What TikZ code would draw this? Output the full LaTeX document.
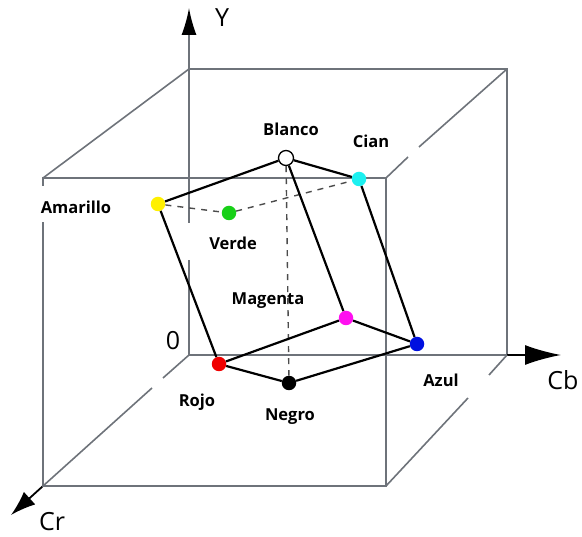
\documentclass[tikz,border=0pt]{standalone}
\usepackage{fontspec}
\setmainfont{Open Sans}
\usetikzlibrary{positioning, arrows.meta}

\definecolor{cubegray}{HTML}{6E737A}
\definecolor{ccian}{HTML}{1CF0F0}
\definecolor{camarillo}{HTML}{FFF000}
\definecolor{cverde}{HTML}{18D018}
\definecolor{cmagenta}{HTML}{FF10F0}
\definecolor{cazul}{HTML}{0010E0}
\definecolor{crojo}{HTML}{F00000}

\begin{document}
\begin{tikzpicture}[
        x=1pt, y=-1pt,
        cube/.style={draw=cubegray, line width=1.6pt},
        edge/.style={black, line width=2.2pt},
        hidden/.style={black!70, line width=1.4pt, dash pattern=on 6pt off 6pt},
        dot/.style={circle, draw=none, minimum size=14.5pt, inner sep=0pt},
        lbl/.style={font=\fontsize{16.5}{18}\selectfont\bfseries, inner sep=0pt},
        axlbl/.style={font=\fontsize{25}{28}\selectfont, inner sep=0pt}
    ]
    \useasboundingbox (0,0) rectangle (582,537);

    % Cube corners
    \coordinate (O)  at (189,355);
    \coordinate (B1) at (189,69);
    \coordinate (B2) at (507,69);
    \coordinate (B3) at (507,355);
    \coordinate (F1) at (43,178);
    \coordinate (F2) at (386,178);
    \coordinate (F3) at (386,486);
    \coordinate (F4) at (43,486);

    % Back face and axes
    \draw[cube] (B1) -- (B2) -- (B3) -- (O);
    \draw[cube] (O) -- (189,260);
    \draw[cube, -{Latex[length=27pt, width=15pt, color=black]}] (189,223) -- (189,8);
    \draw[black, line width=1.8pt, -{Latex[length=36pt, width=20pt]}] (B3) -- (561,355);
    \draw[black, line width=1.8pt, -{Latex[length=25pt, width=17pt]}] (F4) -- (11,515);

    % Front face
    \draw[cube] (43,186) -- (F1) -- (F2) -- (F3) -- (F4) -- (43,222);

    % Depth edges
    \draw[cube] (B1) -- (F1);
    \draw[cube] (B2) -- (419,147);
    \draw[cube] (408,157) -- (F2);
    \draw[cube] (B3) -- (489,375);
    \draw[cube] (468,398) -- (F3);
    \draw[cube] (O) -- (163,378);
    \draw[cube] (152,388) -- (F4);

    % Colour points
    \node[dot, draw=black, line width=1.3pt, fill=white, minimum size=15pt] (blanco) at (286,158) {};
    \node[dot, fill=ccian] (cian) at (359,179) {};
    \node[dot, fill=camarillo] (amarillo) at (158,204) {};
    \node[dot, fill=cverde] (verde) at (229,213) {};
    \node[dot, fill=cmagenta] (magenta) at (346,318) {};
    \node[dot, fill=cazul] (azul) at (417,344) {};
    \node[dot, fill=crojo] (rojo) at (219,364) {};
    \node[dot, fill=black] (negro) at (289,383) {};

    % Hidden edges
    \draw[hidden] (amarillo) -- (verde);
    \draw[hidden] (verde) -- (cian);
    \draw[hidden] (blanco) -- (negro);

    % Visible edges
    \draw[edge] (blanco) -- (amarillo);
    \draw[edge] (blanco) -- (cian);
    \draw[edge] (blanco) -- (magenta);
    \draw[edge] (amarillo) -- (rojo);
    \draw[edge] (cian) -- (azul);
    \draw[edge] (rojo) -- (magenta);
    \draw[edge] (magenta) -- (azul);
    \draw[edge] (rojo) -- (negro);
    \draw[edge] (negro) -- (azul);

    % Labels
    \node[lbl] (lblanco) at (291,129) {Blanco};
    \node[lbl] (lcian) at (371,141) {Cian};
    \node[lbl] (lamarillo) at (76,207) {Amarillo};
    \node[lbl] (lverde) at (233,243) {Verde};
    \node[lbl] (lmagenta) at (268,301) {Magenta};
    \node[lbl] (lazul) at (441,380) {Azul};
    \node[lbl] (lrojo) at (197,402) {Rojo};
    \node[lbl] (lnegro) at (290,417) {Negro};

    \node[axlbl] (ly) at (222,18) {Y};
    \node[axlbl] (lcb) at (563,380) {Cb};
    \node[axlbl] (lcr) at (52,522) {Cr};
    \node[axlbl] (lo) at (173,341) {0};

\end{tikzpicture}
\end{document}
